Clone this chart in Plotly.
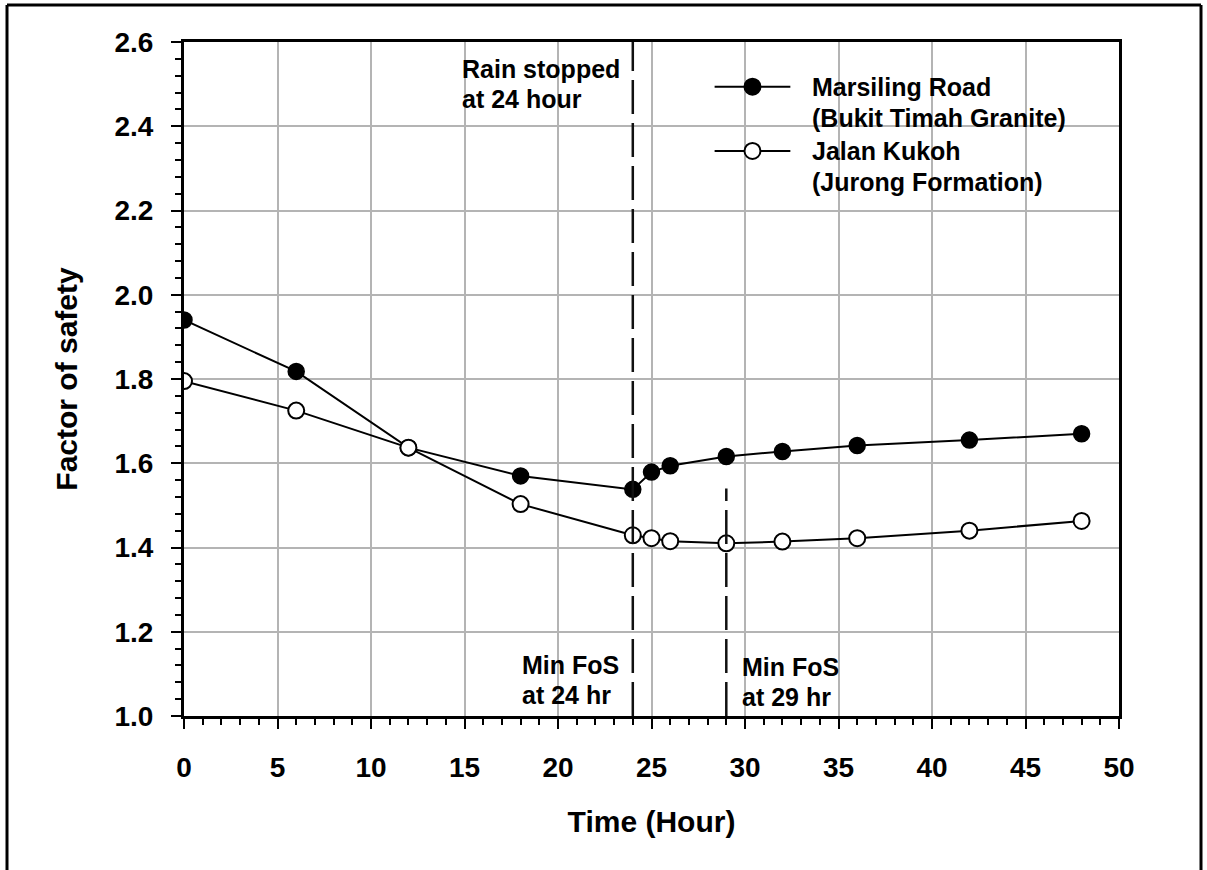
import plotly.graph_objects as go

# Time after rainfall start (hours) and computed factor of safety
hours = [0, 6, 12, 18, 24, 25, 26, 29, 32, 36, 42, 48]
fos_marsiling = [1.940, 1.818, 1.637, 1.570, 1.538, 1.579, 1.594, 1.616, 1.628, 1.642, 1.655, 1.670]
fos_kukoh = [1.795, 1.725, 1.637, 1.503, 1.429, 1.422, 1.415, 1.410, 1.414, 1.422, 1.440, 1.463]

name_marsiling = ["Marsiling Road", "(Bukit Timah Granite)"]
name_kukoh = ["Jalan Kukoh", "(Jurong Formation)"]

rain_stop_hour = 24
min_fos_hour_marsiling = 24
min_fos_hour_kukoh = 29

x_ticks = [0, 5, 10, 15, 20, 25, 30, 35, 40, 45, 50]
y_ticks = [1.0, 1.2, 1.4, 1.6, 1.8, 2.0, 2.2, 2.4, 2.6]

FONT = "Liberation Sans, Arial, Helvetica, sans-serif"
GRID = "#b4b4b4"

fig = go.Figure()

fig.add_trace(go.Scatter(
    x=hours, y=fos_marsiling, mode="lines+markers", name=name_marsiling[0],
    line=dict(color="black", width=2),
    marker=dict(symbol="circle", size=16, color="black", line=dict(color="black", width=1.5)),
    showlegend=False,
))
fig.add_trace(go.Scatter(
    x=hours, y=fos_kukoh, mode="lines+markers", name=name_kukoh[0],
    line=dict(color="black", width=2),
    marker=dict(symbol="circle", size=16, color="white", line=dict(color="black", width=2)),
    showlegend=False,
))

shapes = []
# legend panel hiding the grid behind it
shapes.append(dict(type="rect", xref="paper", yref="paper", x0=0.5487, x1=0.985, y0=0.7408, y1=0.991,
                   fillcolor="white", line=dict(width=0), layer="between"))

# event markers
shapes.append(dict(type="line", xref="x", yref="y", x0=rain_stop_hour, x1=rain_stop_hour, y0=1.0, y1=2.6,
                   line=dict(color="#111111", width=2.5, dash="34px,9px"), layer="above"))
shapes.append(dict(type="line", xref="x", yref="y", x0=min_fos_hour_kukoh, x1=min_fos_hour_kukoh, y0=1.0, y1=1.54,
                   line=dict(color="#111111", width=2.5, dash="34px,9px"), layer="above"))

# legend symbols
for y_line, fill in [(0.9337, "black"), (0.8383, "white")]:
    shapes.append(dict(type="line", xref="paper", yref="paper", x0=0.5675, x1=0.6485, y0=y_line, y1=y_line,
                       line=dict(color="black", width=2), layer="above"))
    shapes.append(dict(type="circle", xref="paper", yref="paper", xsizemode="pixel", ysizemode="pixel",
                       xanchor=0.608, yanchor=y_line, x0=-8, x1=8, y0=-8, y1=8,
                       fillcolor=fill, line=dict(color="black", width=2), layer="above"))

# outer frame
shapes.append(dict(type="line", xref="paper", yref="paper", x0=-0.1893, x1=-0.1893, y0=-0.3, y1=1.0549,
                   line=dict(color="black", width=3)))
shapes.append(dict(type="line", xref="paper", yref="paper", x0=-0.1893, x1=1.0877, y0=1.0549, y1=1.0549,
                   line=dict(color="black", width=3)))
shapes.append(dict(type="line", xref="paper", yref="paper", x0=1.0877, x1=1.0877, y0=-0.3, y1=1.0549,
                   line=dict(color="black", width=3)))

annotations = []
text_font = dict(family=FONT, size=25, color="black", weight="bold")
legend_rows = [(name_marsiling[0], 0.9337), (name_marsiling[1], 0.8868), (name_kukoh[0], 0.8383), (name_kukoh[1], 0.7927)]
for txt, yy in legend_rows:
    annotations.append(dict(xref="paper", yref="paper", x=0.669, y=yy, text=txt, showarrow=False,
                            xanchor="left", yanchor="middle", font=text_font))

# event labels, left-aligned blocks
for txt, yy in [("Rain stopped", 2.536), ("at 24 hour", 2.465)]:
    annotations.append(dict(xref="x", yref="y", x=14.75, y=yy, text=txt, showarrow=False,
                            xanchor="left", yanchor="middle", font=text_font))
for txt, yy in [("Min FoS", 1.121), ("at 24 hr", 1.050)]:
    annotations.append(dict(xref="x", yref="y", x=17.95, y=yy, text=txt, showarrow=False,
                            xanchor="left", yanchor="middle", font=text_font))
for txt, yy in [("Min FoS", 1.117), ("at 29 hr", 1.046)]:
    annotations.append(dict(xref="x", yref="y", x=min_fos_hour_kukoh, y=yy, text=txt, showarrow=False,
                            xanchor="left", yanchor="middle", xshift=14, font=text_font))

tick_font = dict(family=FONT, size=28, color="black", weight="bold")
title_font = dict(family=FONT, size=30, color="black", weight="bold")

fig.update_layout(
    width=1207, height=870,
    margin=dict(l=184, r=88, t=42, b=154),
    paper_bgcolor="white", plot_bgcolor="white",
    font=dict(family=FONT, color="black"),
    shapes=shapes, annotations=annotations,
    showlegend=False,
    xaxis=dict(
        range=[0, 50], tickvals=x_ticks, ticktext=[str(v) for v in x_ticks],
        showgrid=True, gridcolor=GRID, gridwidth=2, zeroline=False,
        showline=True, linecolor="black", linewidth=3, mirror=True,
        ticks="outside", ticklen=10, tickwidth=2, tickcolor="black",
        minor=dict(dtick=1, ticks="outside", ticklen=6, tickwidth=2, tickcolor="black", showgrid=False),
        tickfont=tick_font, ticklabelstandoff=14,
        title=dict(text="Time (Hour)", font=title_font, standoff=30),
    ),
    yaxis=dict(
        range=[1.0, 2.6], tickvals=y_ticks, ticktext=[f"{v:.1f}" for v in y_ticks],
        showgrid=True, gridcolor=GRID, gridwidth=2, zeroline=False,
        showline=True, linecolor="black", linewidth=3, mirror=True,
        ticks="outside", ticklen=10, tickwidth=2, tickcolor="black",
        minor=dict(dtick=0.04, tick0=1.0, ticks="outside", ticklen=6, tickwidth=2, tickcolor="black", showgrid=False),
        tickfont=tick_font, ticklabelstandoff=12,
        title=dict(text="Factor of safety", font=title_font, standoff=28),
    ),
)

fig.write_html("out.html")
